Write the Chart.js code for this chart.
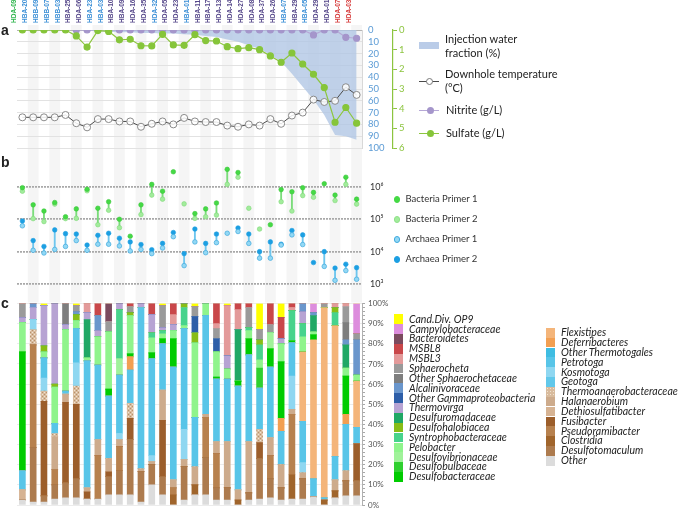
<!DOCTYPE html>
<html><head><meta charset="utf-8">
<script src="https://cdn.jsdelivr.net/npm/chart.js@4.4.0/dist/chart.umd.min.js"></script>
<style>
body{margin:0;background:#fff;}
#wrap{position:relative;width:685px;height:510px;overflow:hidden;background:#fff;font-family:Lato,'Liberation Sans',sans-serif;color:#222;}
canvas{position:absolute;left:0;}
.t{position:absolute;white-space:nowrap;line-height:1;}
.m{position:absolute;}
</style></head><body><div id="wrap">
<canvas id="ca" width="685" height="158" style="top:0px;width:685px;height:158px"></canvas>
<canvas id="cb" width="685" height="134" style="top:158px;width:685px;height:134px"></canvas>
<canvas id="cc" width="685" height="218" style="top:292px;width:685px;height:218px"></canvas>
</div>
<script>
// ---------- shared categories ----------
const samples = ['HDA-09','HBA-20','HBB-09','HBB-07','HBB-03','HBA-25','HDA-06','HBA-23','HBA-03','HBA-10','HBA-09','HDA-16','HDA-35','HDA-32','HDA-05','HDA-23','HBA-01','HBA-11','HBA-17','HDA-13','HDA-14','HDA-27','HDA-08','HDA-37','HDA-26','HBA-07','HBA-29','HBA-05','HDA-29','HDA-01','HDA-07','HDA-03'];
const sampleGroup = ['g','b','b','b','b','p','p','b','b','p','p','p','p','b','p','p','b','p','p','p','p','p','p','p','p','b','p','b','p','p','r','r'];

// ---------- panel a ----------
const injectionFraction = [0,0,0,0,0,0,0.5,1,1.5,2,2,2.5,2.5,3,3,3.5,4,5,6,8,10,13,16,21,27,37,48,59,72,89,90,93];
const temperature = [74,74,74,74,72,79,82.5,75.5,75.5,77.5,77.5,82,79.5,77.5,80,74.5,77.5,78,78,81,82,80,81,75.5,79.5,72.5,70,59,61,60,48.5,55];
const nitrite = [null,null,null,null,null,0,0,0,0,0,0,0,0,0,0,0,0,0,0,0,0,0,0,0,0,0,0,0.25,0,0,0.37,0.42];
const sulfate = [0,0,0,0,0,0.3,0.87,0.03,0.07,0.5,0.47,0.8,0.81,0.22,0.76,0.78,0.24,0.54,0.56,0.85,0.95,0.9,1.0,1.32,1.64,1.17,1.73,2.25,2.93,4.69,3.94,4.74];
const blueTicks = [0,100];
const greenTicks = [0,6];

// ---------- panel b ----------
const bacteriaPrimer1 = [9.5e5,2.8e5,1.8e5,3.3e5,1.2e5,2.1e5,8.5e5,2.2e5,3.5e5,1.0e5,3.0e4,2.8e5,1.2e6,7.4e5,2.95e6,null,1.5e5,2.1e5,3.2e5,3.5e6,2.8e6,null,null,6.8e4,8.3e5,7.1e5,9.5e5,6.8e5,1.26e6,5.6e5,2.0e6,4.2e5];
const bacteriaPrimer2 = [7.4e5,1.05e5,8.5e4,2.95e5,1.05e5,1.07e5,7.6e5,6.8e4,1.9e5,5.5e4,null,1.4e5,5.6e5,4.2e5,null,3.0e5,1.07e5,1.2e5,1.35e5,1.2e6,2.0e6,2.2e5,5.0e4,null,3.5e5,1.8e5,5.4e5,4.8e5,null,3.8e5,1.2e6,2.95e5];
const archaeaPrimer1 = [6.3e4,1.1e4,9.1e3,1.17e4,1.45e4,2.2e4,1.1e4,1.7e4,1.7e4,1.5e4,1.05e4,1.17e4,8.7e3,1.3e4,2.9e4,3.7e3,2.0e4,9.3e3,1.9e4,3.7e4,4.2e4,1.8e4,6.3e3,6.3e3,1.6e4,3.3e4,1.66e4,null,3.5e3,1.3e3,2.6e3,1.4e3];
const archaeaPrimer2 = [8.9e4,2.2e4,1.45e4,4.7e4,3.6e4,3.5e4,1.6e4,3.2e4,3.7e4,2.6e4,2.0e4,1.66e4,1.15e4,1.8e4,3.9e4,8.7e3,5.0e4,1.8e4,3.5e4,null,5.4e4,3.5e4,1.0e4,2.0e4,1.7e4,4.5e4,3.3e4,4.6e3,1.0e4,3.1e3,4.1e3,3.2e3];
const logTicks = [1e3,1e4,1e5,1e6];
const logTickLabels = ['10\u00B3','10\u2074','10\u2075','10\u2076'];

// ---------- panel c (percent, top-of-stack first in legend order) ----------
const candDivOP9 =            [0,0,1,0,0,1,0,0,0,0, 0,0,0,1,0,0,1.5,0,0,1, 0,0,13,0,7,0,0,0,0,0, 0,0];
const campylobacteraceae =    [0,0,0,0,0,0,0,0,0,0, 0,0,0,0,0,0,0,0,0,0, 0,0,0,0,0,0,0,4.5,0,0, 0,15];
const bacteroidetes =         [0,0,0,0,0,0,0,0,9,0, 0,0,0,0,0,0,0,0,0,0, 0,0,0,0,0,0,0,0,0,0, 0,0];
const msbl8 =                 [0,0,0,0,0,0,0,6,0,0, 1.5,0,5.5,0,5.5,0,0,0,10,0, 3,2,0,10.5,10.5,2,0,0,0,0, 0,0];
const msbl3 =                 [0,0,0,0,0,0,4.5,0,0,0, 0,0,0,0,5,0,0,0,2.5,25, 10,0,0,0,0,1.5,0,0,0,2, 1.5,0];
const sphaerocheta =          [7,0,0,0,0,3,0,0,5,0, 3,0,0,11,0,0,5,0,5,0, 0,10,5,4,0,0,0,0,2,0, 8,3];
const otherSphaerochetaceae = [0,0,0,0,10.5,0,0,0,0,0, 0,0,0,0,0,0,0,0,0,0, 0,0,0,0,0,0,0,0,0,0, 8.5,0];
const alcalinivoraceae =      [0,2,0,0,0,1.5,0,7.5,0,0, 0,0,0,0,0,0,0,0,0,0, 0,0,0,0,0,0,4,1.5,0,0, 2.5,17.5];
const otherGammaproteobacteria=[0,0,0,0,0,0,0,0,0,0, 0,0,0,0,0,0,8,0,6.5,0, 0,0,0,0,0,0,0,0,0,0, 0,0];
const thermovirga =           [2.5,6,20,40,2.5,0,3.5,3,0,3, 0,2,9,1.5,3,0,0,0,0,6.5, 0,0,0,0,2.5,0,6,0,0,0, 0,0];
const desulfuromadaceae =     [0,0,0,0,0,0,19,0,0,0, 0,0,0,0,0,0,0,0,0,0, 25.5,0,0,0,0,0,0,8,0,0, 11.5,0];
const desulfohalobiacea =     [0,0,3,1.5,0,3,0,0,0,0, 1.5,0,0,0,0,2,5,0,0,0, 0,0,2.5,0,0,0,0,0,0,2.5, 0,0];
const syntrophobacteraceae =  [0,0,0,0,0,0,0,0,0,24.5, 0,0,2.5,1.5,0,9,0,0,0,0, 0,1.5,7.5,0,0,15,6.5,0,0,6.5, 0,0];
const pelobacter =            [14.5,0,3,18,30.5,4,1.5,14,28.5,0, 19,0,7.5,2.5,4,1.5,37,6,12.5,5, 0,4,4,0,9,0,7.5,1.5,0,0, 4,3];
const desulfovibrionaceae =   [0,0,0,0,0,0,0,0,0,8, 0,0,0,0,0,0,0,0,0,0, 0,0,0,8,0,0,0,0,0,0, 0,0];
const desulfobulbaceae =      [0,0,0,0,0,0,0,0,0,0, 0,0,0,0,0,0,0,0,0,0, 0,0,10,0,0,0,0,0,0,0, 0,0];
const desulfobacteraceae =    [59,0,0,0,0,0,0,0,3.5,0, 1.5,0,3,2.5,14,0,0,0,1,0, 2.5,8,0,9,28,1,0,2.5,0,0, 19,0];
const flexistipes =           [0,0,0,0,0,0,0,0,0,0, 0,0,0,0,0,0,0,0,0,0, 0,0,0,0,0,0,34.5,69,94.5,65, 0,23];
const deferribacteres =       [0,0,0,0,0,0,0,0,0,0, 6.5,0,0,0,0,0,0,0,0,0, 0,0,0,0,6.5,0,0,0,0,0, 5,0];
const otherThermotogales =    [0,0,0,0,0,0,0,0,0,0, 0,0,0,0,0,0,0,0,0,0, 0,0,0,0,0,0,0,0,0,0, 0,0];
const petrotoga =             [9.5,0,10,5,1.5,17,63,37,31,29, 16.5,80,48,23,56,50,24.5,49,31,31, 51.5,43,20.5,35,16.5,16.5,20.5,9,1,11.5, 23,8];
const kosmotoga =             [0,5,6.5,0,0,11.5,0,0,0,3, 0,0,3,0,0,15,0,0,0,0, 0,0,0,0,0,16.5,5,0,0,0, 0,0];
const geotoga =               [0,0,0,0,0,0,0,0,0,0, 0,0,0,0,0,0,0,0,0,0, 0,0,0,0,0,0,0,0,0,0, 0,0];
const thermoanaerobacteraceae=[0,7.5,5,1.5,0,9,0,0,0,0, 7.5,0,0,0,0,0,0,0,0,0, 0,0,6.5,0,0,0,0,0,0,0, 0,0];
const halanaerobium =         [0,0,0,16.5,4,0,2,8,6.5,3.5, 0,1.5,1.5,15,4,3.5,9,1.5,6,23, 5,25.5,0,9,11.5,2.5,3,0,0,5.5, 5,0];
const dethiosulfatibacter =   [5,0,0,0,0,0,0,0,0,0, 0,0,0,0,0,0,0,0,0,0, 0,0,0,0,0,0,0,0,0,0, 0,0];
const fusibacter =            [0,0,47,0,40,37,3.5,0,2.5,0, 10.5,0,0,28,0,0,0,0,0,0, 0,0,8,0,0,0,0,0,0,0, 0,18.5];
const pseudoramibacter =      [0,51,0,7.5,0,0,0,21.5,0,12, 0,0,0,0,3.5,0,0,20,17,0, 0,0,0,11.5,0,30,0,0,0,0, 0,0];
const clostridia =            [0,0,0,0,0,0,0,0,0,0, 0,0,0,0,5,0,5,0,0,0, 2.5,0,0,0,0,12,0,0,2.5,3.5, 0,0];
const desulfotomaculum =      [0,27,3,7,7.5,9.5,0,0,9,12, 27.5,15,10,9,0,16.5,0,18.5,6,6, 0,3.5,20,9.5,6,0,10,0,0,0, 7.5,7.5];
const otherTaxa =             [2.5,1.5,1.5,3,3.5,3.5,3,3,5,5, 5,1.5,10,5,0,2.5,5,5,2.5,2.5, 0,2.5,3,3.5,2.5,3,3,4,0,3.5, 4.5,4.5];
const percentTicks = [0,100];

const taxaLeft = ['Cand.Div. OP9','Campylobacteraceae','Bacteroidetes','MSBL8','MSBL3','Sphaerocheta','Other Sphaerochetaceae','Alcalinivoraceae','Other Gammaproteobacteria','Thermovirga','Desulfuromadaceae','Desulfohalobiacea','Syntrophobacteraceae','Pelobacter','Desulfovibrionaceae','Desulfobulbaceae','Desulfobacteraceae'];
const taxaRight = ['Flexistipes','Deferribacteres','Other Thermotogales','Petrotoga','Kosmotoga','Geotoga','Thermoanaerobacteraceae','Halanaerobium','Dethiosulfatibacter','Fusibacter','Pseudoramibacter','Clostridia','Desulfotomaculum','Other'];
const taxaValues = [candDivOP9,campylobacteraceae,bacteroidetes,msbl8,msbl3,sphaerocheta,otherSphaerochetaceae,alcalinivoraceae,otherGammaproteobacteria,thermovirga,desulfuromadaceae,desulfohalobiacea,syntrophobacteraceae,pelobacter,desulfovibrionaceae,desulfobulbaceae,desulfobacteraceae,
  flexistipes,deferribacteres,otherThermotogales,petrotoga,kosmotoga,geotoga,thermoanaerobacteraceae,halanaerobium,dethiosulfatibacter,fusibacter,pseudoramibacter,clostridia,desulfotomaculum,otherTaxa];

// ---------- styles ----------
const groupColor = {g:'#2eb54c', b:'#3b8fd6', p:'#56488a', r:'#d63a3a'};
const taxaColors = ['#ffff00','#dd8ddd','#7b4b5f','#c9474a','#e39a9a','#9a9a9a','#7e7e7e','#6a96cc','#2d5ea8','#b7a3d3','#20a865','#88bd16','#47d38c','#8ff48c','#a0f29a','#2fd02f','#00cc00',
  '#f4b57a','#f29f52','#3fbde2','#58c5e8','#8fd7f1','#62c8ea','PATTERN','#cdab8c','#d6b393','#9c5e2b','#b7814e','#a0652c','#ad7b4e','#dcdcdc'];
const stripeColor = '#f5f5f5';

function makePattern(){
  const p = document.createElement('canvas'); p.width = 4; p.height = 4;
  const g = p.getContext('2d');
  g.fillStyle = '#d8bb9d'; g.fillRect(0,0,4,4);
  g.fillStyle = '#f1e3d2'; g.fillRect(0,0,1,1); g.fillRect(2,2,1,1);
  g.fillStyle = '#b8926c'; g.fillRect(2,0,1,1); g.fillRect(0,2,1,1);
  return document.getElementById('cc').getContext('2d').createPattern(p,'repeat');
}
const thermoPattern = makePattern();
const colorOf = c => c === 'PATTERN' ? thermoPattern : c;

function stripes(y0f, y1f){
  return { id:'stripes', beforeDraw(chart){
    const xs = chart.scales.x, ctx = chart.ctx;
    const w = (xs.right - xs.left) / samples.length;
    const y0 = y0f(chart), y1 = y1f(chart);
    ctx.save(); ctx.fillStyle = stripeColor;
    for (let i = 1; i < samples.length; i += 2) {
      const cx = xs.getPixelForValue(i);
      ctx.fillRect(cx - w/2, y0, w, y1 - y0);
    }
    ctx.restore();
  }};
}
const noPad = s => { s.paddingTop = 0; s.paddingBottom = 0; s.paddingLeft = 0; s.paddingRight = 0; };
const base = { responsive:false, animation:false, devicePixelRatio:1,
  plugins:{ legend:{display:false}, tooltip:{enabled:false} } };

// ---------- chart a ----------
new Chart(document.getElementById('ca'), {
  type:'line',
  data:{ labels:samples, datasets:[
    { label:'Sulfate (g/L)', data:sulfate, yAxisID:'yG', borderColor:'#8dc63f', backgroundColor:'#8dc63f', pointBackgroundColor:'#86c53a', pointBorderColor:'#86c53a', pointRadius:3, borderWidth:1.2, order:0 },
    { label:'Nitrite (g/L)', data:nitrite, yAxisID:'yG', borderColor:'#b6a8d6', backgroundColor:'#a899cc', pointBackgroundColor:'#a596cb', pointBorderColor:'#a596cb', pointRadius:3, borderWidth:1.2, order:1 },
    { label:'Downhole temperature (°C)', data:temperature, yAxisID:'yB', borderColor:'#4a4a4a', borderWidth:1, pointRadius:3.5, pointBackgroundColor:'rgba(255,255,255,0.85)', pointBorderColor:'#8a8a8a', pointBorderWidth:1, order:2 },
    { label:'Injection water fraction (%)', data:injectionFraction, yAxisID:'yB', fill:'origin', backgroundColor:'rgba(178,199,229,0.8)', borderWidth:0, borderColor:'rgba(0,0,0,0)', pointRadius:0, order:3 }
  ]},
  options:{ ...base,
    layout:{ padding:{ left:17, top:0, right:0, bottom:10 } },
    scales:{
      x:{ type:'category', position:'top', offset:true,
        grid:{ display:false, drawTicks:false }, border:{ display:false },
        ticks:{ autoSkip:false, minRotation:90, maxRotation:90, padding:7,
          color: c => groupColor[sampleGroup[c.index]],
          font:{ family:'Liberation Sans', size:6.5, weight:'bold' } },
        afterFit: s => { s.height = 30; noPad(s); } },
      yB:{ type:'linear', position:'right', reverse:true, min:blueTicks[0], max:blueTicks[1], weight:0,
        ticks:{ stepSize:10, autoSkip:false, color:'#5b9bd5', padding:6, font:{ family:'Lato', size:9.5 } },
        grid:{ drawTicks:false, color: c => c.tick && c.tick.value === 0 ? '#b5b5b5' : '#e2e2e2' },
        border:{ color:'#d8d8d8' },
        afterFit: s => { s.width = 31; noPad(s); } },
      yG:{ type:'linear', position:'right', reverse:true, min:greenTicks[0], max:greenTicks[1], weight:1,
        ticks:{ stepSize:1, autoSkip:false, color:'#8cc43f', padding:2, font:{ family:'Lato', size:9.5 } },
        grid:{ drawOnChartArea:false, color:'#8cc43f', tickLength:4 },
        border:{ color:'#8cc43f', width:1.2 },
        afterFit: s => { s.width = 292; noPad(s); } }
    }
  },
  plugins:[ stripes(() => 25, ch => ch.height) ]
});

// ---------- chart b ----------
const pairRange = (a, b) => a.map((v, i) => (v != null && b[i] != null) ? [Math.min(v, b[i]), Math.max(v, b[i])] : null);
new Chart(document.getElementById('cb'), {
  type:'bar',
  data:{ labels:samples, datasets:[
    { type:'line', label:'Bacteria Primer 1', data:bacteriaPrimer1, showLine:false, pointRadius:2.3, pointBackgroundColor:'#45d945', pointBorderColor:'#3cc83c', pointBorderWidth:0.6, order:0 },
    { type:'line', label:'Bacteria Primer 2', data:bacteriaPrimer2, showLine:false, pointRadius:2.3, pointBackgroundColor:'#a2ec9c', pointBorderColor:'#7fd879', pointBorderWidth:0.6, order:1 },
    { type:'line', label:'Archaea Primer 1', data:archaeaPrimer1, showLine:false, pointRadius:2.3, pointBackgroundColor:'#93d8f4', pointBorderColor:'#3ea9de', pointBorderWidth:0.7, order:2 },
    { type:'line', label:'Archaea Primer 2', data:archaeaPrimer2, showLine:false, pointRadius:2.3, pointBackgroundColor:'#1c9fe2', pointBorderColor:'#1c9fe2', pointBorderWidth:0.6, order:3 },
    { type:'bar', label:'Bacteria range', data:pairRange(bacteriaPrimer1, bacteriaPrimer2), backgroundColor:'#7bdc7b', barThickness:1.2, grouped:false, order:4 },
    { type:'bar', label:'Archaea range', data:pairRange(archaeaPrimer1, archaeaPrimer2), backgroundColor:'#6ec6ee', barThickness:1.2, grouped:false, order:5 }
  ]},
  options:{ ...base,
    layout:{ padding:{ left:17, top:2, right:0, bottom:8 } },
    scales:{
      x:{ type:'category', display:false, offset:true },
      y:{ type:'logarithmic', position:'right', min:logTicks[0], max:5623413,
        afterBuildTicks: s => { s.ticks = logTicks.map(v => ({ value:v })); },
        ticks:{ callback:(v) => logTickLabels[logTicks.indexOf(v)], color:'#333', padding:8, font:{ family:"Lato, 'DejaVu Sans'", size:9 } },
        grid:{ drawTicks:false, color:'#a9a9a9', lineWidth:1.8 },
        border:{ display:false, dash:[2,1] },
        afterFit: s => { s.width = 323; noPad(s); } }
    }
  },
  plugins:[ stripes(() => 0, ch => ch.height) ]
});

// ---------- chart c ----------
const taxaNames = taxaLeft.concat(taxaRight);
const cDatasets = taxaNames.map((n, i) => ({ label:n, data:taxaValues[i], backgroundColor:colorOf(taxaColors[i]), borderWidth:0, barThickness:6 })).reverse();
new Chart(document.getElementById('cc'), {
  type:'bar',
  data:{ labels:samples, datasets:cDatasets },
  options:{ ...base,
    layout:{ padding:{ left:17, top:11.5, right:0, bottom:5 } },
    scales:{
      x:{ type:'category', display:false, stacked:true, offset:true },
      y:{ type:'linear', position:'right', stacked:true, min:percentTicks[0], max:percentTicks[1],
        ticks:{ stepSize:2, maxTicksLimit:100, autoSkip:false, padding:3, color:'#555',
          callback: v => (v % 10 === 0 ? v + '%' : ''), font:{ family:'Lato', size:8 } },
        grid:{ color: c => (c.tick && c.tick.value % 10 === 0 ? '#ececec' : 'rgba(0,0,0,0)'), tickColor:'#a8a8a8', tickLength:3 },
        border:{ color:'#b0b0b0' },
        afterFit: s => { s.width = 323; noPad(s); } }
    }
  },
  plugins:[ stripes(() => 0, ch => ch.chartArea.top - 1) ]
});

// ---------- html legends & letters ----------
const wrap = document.getElementById('wrap');
function text(str, x, cy, size, extra){
  const d = document.createElement('div'); d.className = 't'; d.textContent = str;
  d.style.left = x + 'px'; d.style.top = (cy - 0.58 * size) + 'px'; d.style.fontSize = size + 'px';
  Object.assign(d.style, extra || {}); wrap.appendChild(d); return d;
}
function box(x, y, w, h, st){
  const d = document.createElement('div'); d.className = 'm';
  d.style.left = x + 'px'; d.style.top = y + 'px'; d.style.width = w + 'px'; d.style.height = h + 'px';
  Object.assign(d.style, st || {}); wrap.appendChild(d); return d;
}
// panel letters
const letterStyle = { fontFamily:'Liberation Sans, Arial, sans-serif', fontWeight:'bold' };
text('a', 1, 31, 14, letterStyle);
text('b', 1, 163.5, 14, letterStyle);
text('c', 1, 304.5, 14, letterStyle);

// legend a
box(419, 42, 20, 7, { background:'rgba(178,199,229,0.9)' });
text('Injection water', 445, 39.5, 11);
text('fraction (%)', 445, 53, 11);
box(419, 81.2, 20, 1, { background:'#4a4a4a' });
box(426, 78, 7, 7, { border:'1px solid #777', borderRadius:'50%', background:'#fff', boxSizing:'border-box' });
text('Downhole temperature', 445, 74.5, 11);
text('(°C)', 445, 88.5, 11);
box(419, 109.5, 20, 1.2, { background:'#b6a8d6' });
box(426.5, 106.6, 7, 7, { borderRadius:'50%', background:'#a596cb' });
text('Nitrite (g/L)', 446, 110, 11);
box(419, 133, 20, 1.2, { background:'#8dc63f' });
box(426.5, 130.1, 7, 7, { borderRadius:'50%', background:'#86c53a' });
text('Sulfate (g/L)', 446, 133.5, 11);

// legend b
const bLegend = [['Bacteria Primer 1','#45d945','#45d945'],['Bacteria Primer 2','#a2ec9c','#8ee088'],['Archaea Primer 1','#93d8f4','#3ea9de'],['Archaea Primer 2','#1c9fe2','#1c9fe2']];
bLegend.forEach((e, i) => {
  const cy = 199.3 + 20 * i;
  box(393.7, cy - 3.3, 6.6, 6.6, { borderRadius:'50%', background:e[1], border:'0.8px solid ' + e[2], boxSizing:'border-box' });
  text(e[0], 405.5, cy + 0.5, 9.5, { color:'#333' });
});

// legend c
taxaLeft.forEach((n, i) => {
  const cy = 319.3 + 9.85 * i;
  box(394.3, cy - 4.85, 9, 9.7, { background: taxaColors[i] });
  text(n, 409, cy + 0.5, 10.5, { fontStyle:'italic' });
});
taxaRight.forEach((n, i) => {
  const cy = 332.7 + 9.85 * i;
  const c = taxaColors[taxaLeft.length + i];
  const st = c === 'PATTERN'
    ? { background:'#d8bb9d', backgroundImage:'radial-gradient(#f1e3d2 35%, transparent 36%)', backgroundSize:'3px 3px' }
    : { background:c };
  box(545.7, cy - 4.85, 9, 9.7, st);
  text(n, 561, cy + 0.5, 10.5, { fontStyle:'italic' });
});
</script>
</body></html>
